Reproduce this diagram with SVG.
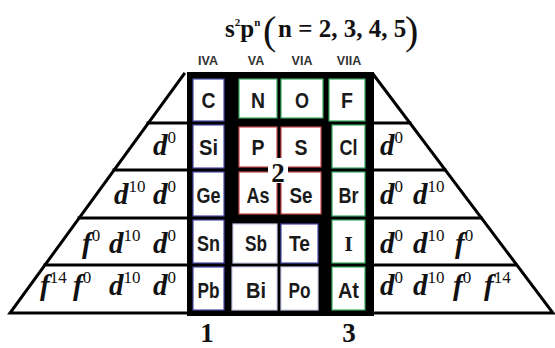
<svg xmlns="http://www.w3.org/2000/svg" width="555" height="348" viewBox="0 0 555 348">
<style>
.el{font-family:"Liberation Sans",Arial,sans-serif;font-weight:bold;font-size:22px;fill:#1a1a1a;text-anchor:middle}
.hd{font-family:"Liberation Sans",Arial,sans-serif;font-weight:bold;font-size:12.5px;fill:#333;text-anchor:middle}
.lbl{font-family:"Liberation Serif","Times New Roman",serif;font-size:29px;font-style:italic;font-weight:bold;fill:#111}
.sup{font-size:17px;font-style:normal;font-weight:normal}
.num{font-family:"Liberation Serif","Times New Roman",serif;font-weight:bold;font-size:27px;fill:#111;text-anchor:middle}
.ttl{font-family:"Liberation Serif","Times New Roman",serif;font-weight:bold;font-size:25px;fill:#111}
.par{font-family:"Liberation Serif","Times New Roman",serif;font-weight:normal;font-size:40px;fill:#111}
.cell{fill:#fff;stroke-width:1.2}
.b{stroke:#4a4aa8}.g{stroke:#3aa860}.r{stroke:#c04848}.w{stroke:#c8cce8}
.ln{stroke:#000;stroke-width:3;fill:none;stroke-linecap:square}
</style>

<g id="title">
<text class="ttl" x="225" y="37">s<tspan font-size="11" dy="-11">2</tspan><tspan dy="11">p</tspan><tspan font-size="11" dy="-11">n</tspan></text>
<text class="par" x="263" y="44">(</text>
<text class="ttl" x="278" y="37" font-size="23" xml:space="preserve">n = 2, 3, 4, 5</text>
<text class="par" x="405" y="44">)</text>
</g>

<g id="headers">
<text class="hd" x="208" y="65">IVA</text>
<text class="hd" x="256" y="65">VA</text>
<text class="hd" x="302" y="65">VIA</text>
<text class="hd" x="349" y="65">VIIA</text>
</g>

<g id="lines">
<path class="ln" d="M184,74 L10,313 L187,313"/>
<path class="ln" d="M373,74 L553,313 L374,313"/>
<path class="ln" d="M148,123 H188 M114,170 H188 M79,218 H188 M45,265 H188"/>
<path class="ln" d="M374,123 H410 M374,170 H445 M374,218 H481 M374,265 H516"/>
</g>

<g id="table">
<rect x="187" y="72" width="187" height="244" fill="#000"/>
</g>

<g id="cell-C"><rect class="cell b" x="193" y="79" width="31" height="42"/><text class="el" x="208.5" y="108" textLength="14" lengthAdjust="spacingAndGlyphs">C</text></g>
<g id="cell-Si"><rect class="cell b" x="193" y="125" width="31" height="43"/><text class="el" x="208.5" y="155" textLength="19" lengthAdjust="spacingAndGlyphs">Si</text></g>
<g id="cell-Ge"><rect class="cell b" x="193" y="172" width="31" height="44"/><text class="el" x="208.5" y="203" textLength="24" lengthAdjust="spacingAndGlyphs">Ge</text></g>
<g id="cell-Sn"><rect class="cell b" x="193" y="220" width="31" height="43"/><text class="el" x="208.5" y="251" textLength="23" lengthAdjust="spacingAndGlyphs">Sn</text></g>
<g id="cell-Pb"><rect class="cell b" x="193" y="267" width="31" height="43"/><text class="el" x="208.5" y="298" textLength="22" lengthAdjust="spacingAndGlyphs">Pb</text></g>

<g id="cell-N"><rect class="cell g" x="239" y="79" width="38" height="39"/><text class="el" x="258" y="108" textLength="14" lengthAdjust="spacingAndGlyphs">N</text></g>
<g id="cell-P"><rect class="cell r" x="239" y="127" width="38" height="40"/><text class="el" x="258" y="155" textLength="13" lengthAdjust="spacingAndGlyphs">P</text></g>
<g id="cell-As"><rect class="cell r" x="239" y="172" width="38" height="42"/><text class="el" x="258" y="203" textLength="23" lengthAdjust="spacingAndGlyphs">As</text></g>
<g id="cell-Sb"><rect class="cell w" x="233" y="224" width="44" height="39"/><text class="el" x="256" y="251" textLength="22" lengthAdjust="spacingAndGlyphs">Sb</text></g>
<g id="cell-Bi"><rect class="cell w" x="232" y="267" width="45" height="43"/><text class="el" x="256" y="298" textLength="20" lengthAdjust="spacingAndGlyphs">Bi</text></g>

<g id="cell-O"><rect class="cell g" x="281" y="79" width="42" height="39"/><text class="el" x="302" y="108" textLength="14" lengthAdjust="spacingAndGlyphs">O</text></g>
<g id="cell-S"><rect class="cell r" x="281" y="127" width="40" height="40"/><text class="el" x="301" y="155" textLength="13" lengthAdjust="spacingAndGlyphs">S</text></g>
<g id="cell-Se"><rect class="cell r" x="281" y="172" width="40" height="42"/><text class="el" x="301" y="203" textLength="23" lengthAdjust="spacingAndGlyphs">Se</text></g>
<g id="cell-Te"><rect class="cell b" x="281" y="224" width="37" height="39"/><text class="el" x="299.5" y="251" textLength="21" lengthAdjust="spacingAndGlyphs">Te</text></g>
<g id="cell-Po"><rect class="cell w" x="281" y="267" width="37" height="43"/><text class="el" x="299.5" y="298" textLength="22" lengthAdjust="spacingAndGlyphs">Po</text></g>

<g id="cell-F"><rect class="cell g" x="329" y="79" width="36" height="42"/><text class="el" x="347" y="108" textLength="12" lengthAdjust="spacingAndGlyphs">F</text></g>
<g id="cell-Cl"><rect class="cell g" x="332" y="125" width="33" height="43"/><text class="el" x="348.5" y="155" textLength="18" lengthAdjust="spacingAndGlyphs">Cl</text></g>
<g id="cell-Br"><rect class="cell g" x="332" y="172" width="33" height="44"/><text class="el" x="348.5" y="203" textLength="20" lengthAdjust="spacingAndGlyphs">Br</text></g>
<g id="cell-I"><rect class="cell g" x="332" y="220" width="33" height="43"/><text class="el" x="348.5" y="251" style="font-family:'Liberation Serif',serif">I</text></g>
<g id="cell-At"><rect class="cell g" x="332" y="267" width="33" height="43"/><text class="el" x="348.5" y="298" textLength="21" lengthAdjust="spacingAndGlyphs">At</text></g>

<g id="label-2">
<rect x="268" y="158" width="20" height="25" fill="#fff"/>
<text class="num" x="278" y="182" font-size="35">2</text>
</g>

<g id="left-labels">
<text class="lbl" y="155"><tspan x="153">d</tspan><tspan class="sup" dy="-12">0</tspan></text>
<text class="lbl" y="204"><tspan x="114">d</tspan><tspan class="sup" dy="-12">10</tspan><tspan x="153" dy="12">d</tspan><tspan class="sup" dy="-12">0</tspan></text>
<text class="lbl" y="253"><tspan x="82">f</tspan><tspan class="sup" dy="-12">0</tspan><tspan x="109" dy="12">d</tspan><tspan class="sup" dy="-12">10</tspan><tspan x="153" dy="12">d</tspan><tspan class="sup" dy="-12">0</tspan></text>
<text class="lbl" y="295"><tspan x="40">f</tspan><tspan class="sup" dy="-12">14</tspan><tspan x="73" dy="12">f</tspan><tspan class="sup" dy="-12">0</tspan><tspan x="109" dy="12">d</tspan><tspan class="sup" dy="-12">10</tspan><tspan x="153" dy="12">d</tspan><tspan class="sup" dy="-12">0</tspan></text>
</g>

<g id="right-labels">
<text class="lbl" y="155"><tspan x="380">d</tspan><tspan class="sup" dy="-12">0</tspan></text>
<text class="lbl" y="204"><tspan x="380">d</tspan><tspan class="sup" dy="-12">0</tspan><tspan x="413" dy="12">d</tspan><tspan class="sup" dy="-12">10</tspan></text>
<text class="lbl" y="253"><tspan x="380">d</tspan><tspan class="sup" dy="-12">0</tspan><tspan x="413" dy="12">d</tspan><tspan class="sup" dy="-12">10</tspan><tspan x="455" dy="12">f</tspan><tspan class="sup" dy="-12">0</tspan></text>
<text class="lbl" y="295"><tspan x="380">d</tspan><tspan class="sup" dy="-12">0</tspan><tspan x="413" dy="12">d</tspan><tspan class="sup" dy="-12">10</tspan><tspan x="453" dy="12">f</tspan><tspan class="sup" dy="-12">0</tspan><tspan x="484" dy="12">f</tspan><tspan class="sup" dy="-12">14</tspan></text>
</g>

<g id="group-numbers">
<text class="num" x="207" y="342">1</text>
<text class="num" x="349" y="342">3</text>
</g>
</svg>
